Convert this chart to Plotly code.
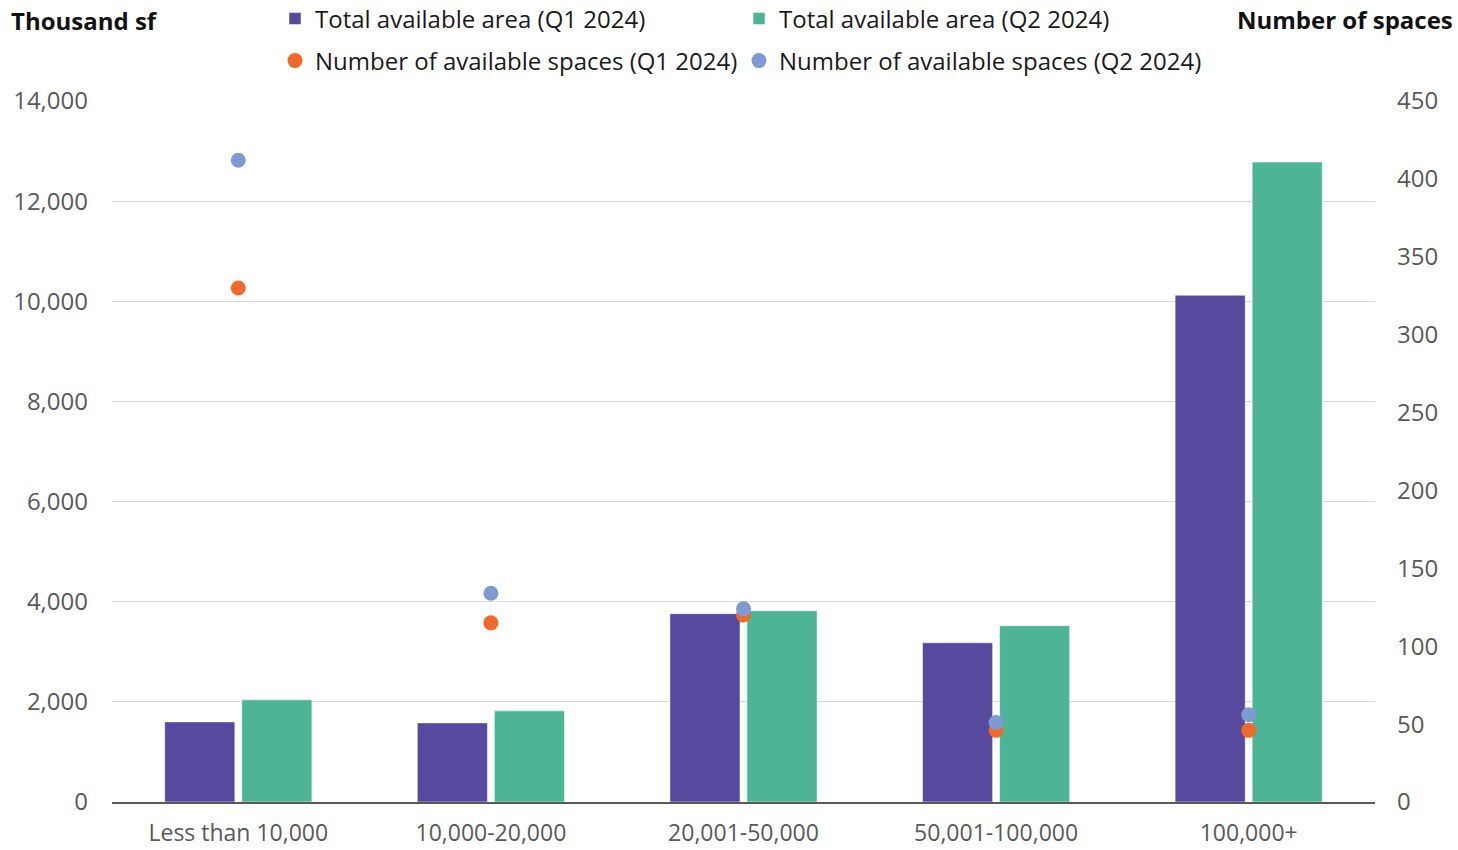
import plotly.graph_objects as go

categories = ["Less than 10,000", "10,000-20,000", "20,001-50,000", "50,001-100,000", "100,000+"]
area_q1 = [1600, 1580, 3760, 3180, 10120]
area_q2 = [2040, 1820, 3820, 3520, 12780]
spaces_q1 = [330, 115, 120, 46, 46]
spaces_q2 = [412, 134, 124, 51, 56]

FONT = "Open Sans"
TICK_COLOR = "#595959"
FS = 24

fig = go.Figure()
fig.add_trace(go.Bar(x=categories, y=area_q1, name="Total available area (Q1 2024)",
                     marker=dict(color="#56499E", line=dict(color="rgba(255,255,255,0.5)", width=1)),
                     legend="legend"))
fig.add_trace(go.Bar(x=categories, y=area_q2, name="Total available area (Q2 2024)",
                     marker=dict(color="#4DB596", line=dict(color="rgba(255,255,255,0.5)", width=1)),
                     legend="legend"))
fig.add_trace(go.Scatter(x=categories, y=spaces_q1, name="Number of available spaces (Q1 2024)",
                         mode="markers", yaxis="y2",
                         marker=dict(color="#F26A2B", size=15, line=dict(width=0)),
                         legend="legend2"))
fig.add_trace(go.Scatter(x=categories, y=spaces_q2, name="Number of available spaces (Q2 2024)",
                         mode="markers", yaxis="y2",
                         marker=dict(color="#7E9BD1", size=15, line=dict(width=0)),
                         legend="legend2"))

legend_common = dict(orientation="h", xref="container", yref="container",
                     x=275/1458, xanchor="left", yanchor="middle",
                     entrywidth=419, entrywidthmode="pixels",
                     font=dict(family=FONT, size=FS, color="#1a1a1a"),
                     bgcolor="rgba(0,0,0,0)", itemclick=False, tracegroupgap=0)

fig.update_layout(
    width=1458, height=850,
    margin=dict(l=112, r=83, t=101, b=48, autoexpand=False),
    paper_bgcolor="white", plot_bgcolor="white",
    font=dict(family=FONT, size=FS, color=TICK_COLOR),
    barmode="group", bargap=0.39, bargroupgap=0.09,
    showlegend=True,
    legend=dict(**legend_common, y=1 - 19/850),
    legend2=dict(**legend_common, y=1 - 61/850),
    xaxis=dict(showgrid=False, showline=True, linecolor="#595959", linewidth=2,
               ticks="", tickfont=dict(family=FONT, size=23, color=TICK_COLOR),
               ticklabelstandoff=9, automargin=False),
    yaxis=dict(range=[0, 14000], dtick=2000, tickformat=",", showgrid=True,
               gridcolor="#D9D9D9", gridwidth=1, zeroline=False, showline=False,
               tickfont=dict(family=FONT, size=FS, color=TICK_COLOR),
               ticklabelstandoff=23, automargin=False),
    yaxis2=dict(range=[0, 450], dtick=50, overlaying="y", side="right",
                showgrid=False, zeroline=False, showline=False,
                tickfont=dict(family=FONT, size=FS, color=TICK_COLOR),
                ticklabelstandoff=21, automargin=False),
    annotations=[
        dict(text="<b>Thousand sf</b>", xref="paper", yref="paper",
             x=-103/1263, y=1 + 80/701, xanchor="left", yanchor="middle",
             showarrow=False, font=dict(family=FONT, size=FS, color="#111111")),
        dict(text="<b>Number of spaces</b>", xref="paper", yref="paper",
             x=1 + 80/1263, y=1 + 82/701, xanchor="right", yanchor="middle",
             showarrow=False, font=dict(family=FONT, size=FS, color="#111111")),
    ],
)

fig.write_html("out.html")
